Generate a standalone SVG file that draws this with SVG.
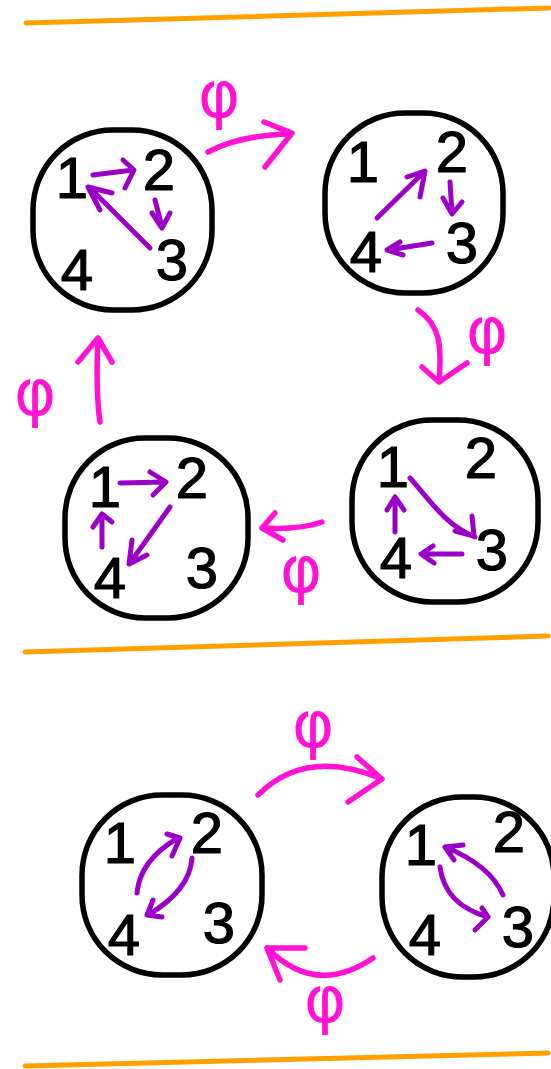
<svg xmlns="http://www.w3.org/2000/svg" width="551" height="1069" viewBox="0 0 551 1069">
<style>
.sep{stroke:#ffa000;stroke-width:5;stroke-linecap:round;fill:none}
.ring{fill:none;stroke:#000;stroke-width:5.5}
.num{font-family:"Liberation Sans",Arial,sans-serif;font-size:58px;fill:#000;stroke:#000;stroke-width:1.2;text-anchor:middle}
.pe{fill:none;stroke:#9b00c8;stroke-width:5;stroke-linecap:round;stroke-linejoin:round}
.pk{fill:none;stroke:#ff12d4;stroke-width:5.5;stroke-linecap:round;stroke-linejoin:round}
.phi{font-family:"DejaVu Sans",sans-serif;font-size:64px;fill:#ff12d4;text-anchor:middle}
</style>
<rect width="551" height="1069" fill="#fff"/>
<g id="separators">
<line class="sep" x1="26" y1="23" x2="549" y2="8"/>
<line class="sep" x1="25" y1="652" x2="548" y2="636"/>
<line class="sep" x1="25" y1="1066" x2="548" y2="1053"/>
</g>
<g id="nodeA">
<rect class="ring" x="33" y="130" width="179" height="180" rx="80"/>
<text class="num" x="72" y="198">1</text>
<text class="num" x="159" y="190">2</text>
<text class="num" x="172" y="280">3</text>
<text class="num" x="77" y="290">4</text>
</g>
<g id="nodeB">
<rect class="ring" x="325" y="113" width="178" height="180" rx="80"/>
<text class="num" x="363" y="182">1</text>
<text class="num" x="452" y="172">2</text>
<text class="num" x="462" y="263">3</text>
<text class="num" x="366" y="272">4</text>
</g>
<g id="nodeC">
<rect class="ring" x="352" y="420" width="186" height="182" rx="80"/>
<text class="num" x="393" y="487">1</text>
<text class="num" x="481" y="478">2</text>
<text class="num" x="492" y="570">3</text>
<text class="num" x="396" y="578">4</text>
</g>
<g id="nodeD">
<rect class="ring" x="65" y="438" width="183" height="180" rx="80"/>
<text class="num" x="105" y="507">1</text>
<text class="num" x="192" y="498">2</text>
<text class="num" x="202" y="588">3</text>
<text class="num" x="110" y="598">4</text>
</g>
<g id="nodeE">
<rect class="ring" x="82" y="795" width="180" height="180" rx="80"/>
<text class="num" x="120" y="863">1</text>
<text class="num" x="207" y="853">2</text>
<text class="num" x="219" y="943">3</text>
<text class="num" x="124" y="955">4</text>
</g>
<g id="nodeF">
<rect class="ring" x="382" y="797" width="172" height="180" rx="80"/>
<text class="num" x="421" y="865">1</text>
<text class="num" x="509" y="852">2</text>
<text class="num" x="518" y="947">3</text>
<text class="num" x="425" y="955">4</text>
</g>
<g id="connectors">
<path class="pe" d="M93,175 L133,170 M123,160 L134,170 L125,188"/>
<path class="pe" d="M155,200 L162,227 M152,213 L162,228 L170,213"/>
<path class="pe" d="M150,248 L90,188 M100,210 L88,187 L112,193"/>
<path class="pe" d="M377,218 L424,172 M407,177 L425,171 L420,197"/>
<path class="pe" d="M450,182 L452,213 M443,198 L452,214 L462,202"/>
<path class="pe" d="M432,243 L388,250 M400,242 L387,250 L403,255"/>
<path class="pe" d="M410,478 C430,500 445,525 475,537 M472,516 L474,536 L455,531"/>
<path class="pe" d="M462,554 L422,554 M433,546 L421,554 L434,563"/>
<path class="pe" d="M395,532 L395,497 M387,510 L395,497 L404,510"/>
<path class="pe" d="M120,483 L165,482 M150,472 L166,482 L153,495"/>
<path class="pe" d="M170,507 L130,563 M132,540 L129,564 L147,555"/>
<path class="pe" d="M102,547 L102,515 M93,527 L102,514 L112,522"/>
<path class="pe" d="M137,893 Q140,860 178,838 M167,834 L180,838 L172,856"/>
<path class="pe" d="M192,858 Q190,890 148,915 M153,900 L147,915 L162,917"/>
<path class="pe" d="M503,895 Q490,865 445,847 M454,860 L445,847 L463,845"/>
<path class="pe" d="M440,867 Q445,905 488,917 M482,908 L488,917 L475,930"/>
<path class="pk" d="M208,152 Q240,135 290,134 M264,122 L292,133 L265,167"/>
<path class="pk" d="M418,310 C440,325 442,345 439,382 M422,367 L439,382 L467,363"/>
<path class="pk" d="M322,522 Q300,530 262,528 M275,513 L262,528 L283,540"/>
<path class="pk" d="M100,422 C96,395 97,360 98,338 M78,362 L98,338 L112,362"/>
<path class="pk" d="M258,795 Q306,747 382,779 M357,757 L382,779 L348,802"/>
<path class="pk" d="M373,958 Q316,997 267,948 M305,948 L267,948 L280,980"/>
</g>
<g id="labels">
<text class="phi" x="219" y="117">φ</text>
<text class="phi" x="487" y="353">φ</text>
<text class="phi" x="301" y="592">φ</text>
<text class="phi" x="35" y="415">φ</text>
<text class="phi" x="313" y="747">φ</text>
<text class="phi" x="325" y="1022">φ</text>
</g>
</svg>
